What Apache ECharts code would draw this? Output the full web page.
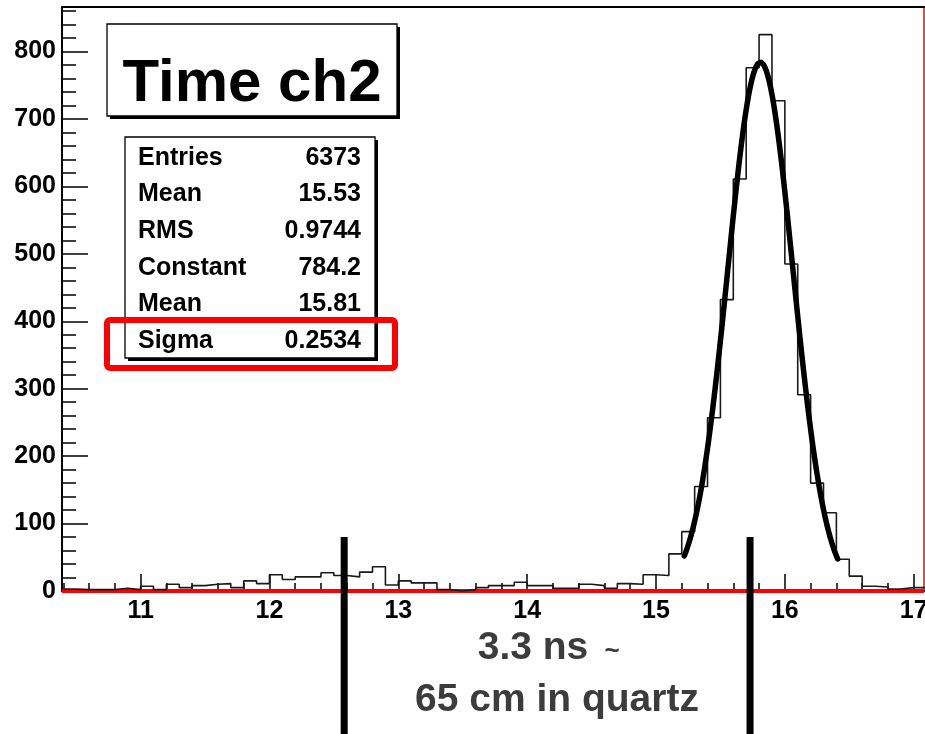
<!DOCTYPE html>
<html>
<head>
<meta charset="utf-8">
<script src="https://cdn.jsdelivr.net/npm/echarts@6/dist/echarts.min.js"></script>
<style>
  html, body { margin: 0; padding: 0; background: #ffffff; }
  #chart { width: 925px; height: 734px; }
</style>
</head>
<body>
<div id="chart"></div>
<script>
// Time histogram of channel 2 (ns), 0.1 ns bins starting at 10.4 ns
const binStart = 10.4;
const binWidth = 0.1;
const binCounts = [
  3, 2, 2, 2, 4, 2, 7, 2, 10, 5,        // 10.4 - 11.3
  8, 10, 11, 5, 15, 11, 24, 17, 21, 21, // 11.4 - 12.3
  27, 23, 21, 28, 36, 9, 15, 12, 12, 2, // 12.4 - 13.3
  0, 2, 5, 8, 8, 13, 8, 8, 4, 4,        // 13.4 - 14.3
  10, 8, 4, 11, 10, 24, 23, 55, 88, 155,// 14.4 - 15.3
  257, 432, 611, 776, 825, 727, 485, 291, 160, 116, // 15.4 - 16.3
  47, 22, 7, 6, 3, 5, 5                 // 16.4 - 17.0
];

// Axis ticks and labels
const xMajorTicks = [11, 12, 13, 14, 15, 16, 17];
const xMinorTicks = [10.4, 10.6, 10.8, 11.2, 11.4, 11.6, 11.8, 12.2, 12.4, 12.6, 12.8,
                     13.2, 13.4, 13.6, 13.8, 14.2, 14.4, 14.6, 14.8, 15.2, 15.4, 15.6, 15.8,
                     16.2, 16.4, 16.6, 16.8];
const yMajorTicks = [0, 100, 200, 300, 400, 500, 600, 700, 800];
const yMinorTicks = [20, 40, 60, 80, 120, 140, 160, 180, 220, 240, 260, 280, 320, 340, 360, 380,
                     420, 440, 460, 480, 520, 540, 560, 580, 620, 640, 660, 680, 720, 740, 760, 780,
                     820, 840, 860];

// Statistics box
const statsRows = [
  ['Entries', '6373'],
  ['Mean', '15.53'],
  ['RMS', '0.9744'],
  ['Constant', '784.2'],
  ['Mean', '15.81'],
  ['Sigma', '0.2534']
];

// Gaussian fit result and the range it was fitted over
const fitConstant = 784.2;
const fitMean = 15.81;
const fitSigma = 0.2534;
const fitRange = [15.22, 16.41];

// Time markers below the axis and their caption
const markerTimes = [12.58, 15.73];
const markerTopCount = 80;
const captionLines = ['3.3 ns', '~', '65 cm in quartz'];

const FONT = '"Liberation Sans", Arial, Helvetica, sans-serif';

// Histogram outline: one point at each bin's lower edge, closed at the upper edge
const histPoints = binCounts.map((c, i) => [+(binStart + i * binWidth).toFixed(2), c]);
histPoints.push([+(binStart + binCounts.length * binWidth).toFixed(2), binCounts[binCounts.length - 1]]);

// Fit curve sampled over the fit range
const fitPoints = [];
for (let x = fitRange[0]; x <= fitRange[1] + 1e-9; x += 0.005) {
  const z = (x - fitMean) / fitSigma;
  fitPoints.push([x, fitConstant * Math.exp(-0.5 * z * z)]);
}

const xMin = 10.39, xMax = 17.08, yMax = 866;

const chart = echarts.init(document.getElementById('chart'), null, { renderer: 'canvas' });

const option = {
  animation: false,
  backgroundColor: '#ffffff',
  grid: { left: 62, right: 1, top: 7, bottom: 143, containLabel: false, outerBoundsMode: 'none' },
  xAxis: [
    {
      type: 'value', min: xMin, max: xMax, position: 'bottom',
      axisLine: { show: true, onZero: false, lineStyle: { color: '#000', width: 2 } },
      axisTick: { show: true, inside: true, length: 17, customValues: xMajorTicks,
                  lineStyle: { color: '#000', width: 1.5 } },
      axisLabel: { show: true, customValues: xMajorTicks, margin: 8, hideOverlap: false,
                   fontFamily: FONT, fontWeight: 'bold', fontSize: 25, color: '#000' },
      splitLine: { show: false }
    },
    {
      type: 'value', min: xMin, max: xMax, position: 'bottom',
      axisLine: { show: false, onZero: false },
      axisTick: { show: true, inside: true, length: 8, customValues: xMinorTicks,
                  lineStyle: { color: '#000', width: 1.5 } },
      axisLabel: { show: false },
      splitLine: { show: false }
    },
    {
      type: 'value', min: xMin, max: xMax, position: 'top',
      axisLine: { show: true, onZero: false, lineStyle: { color: '#000', width: 2 } },
      axisTick: { show: false }, axisLabel: { show: false }, splitLine: { show: false }
    }
  ],
  yAxis: [
    {
      type: 'value', min: 0, max: yMax, position: 'left',
      axisLine: { show: true, onZero: false, lineStyle: { color: '#000', width: 2 } },
      axisTick: { show: true, inside: true, length: 26, customValues: yMajorTicks,
                  lineStyle: { color: '#000', width: 1.5 } },
      axisLabel: { show: true, customValues: yMajorTicks, margin: 6,
                   fontFamily: FONT, fontWeight: 'bold', fontSize: 25, color: '#000' },
      splitLine: { show: false }
    },
    {
      type: 'value', min: 0, max: yMax, position: 'left',
      axisLine: { show: false, onZero: false },
      axisTick: { show: true, inside: true, length: 14, customValues: yMinorTicks,
                  lineStyle: { color: '#000', width: 1.5 } },
      axisLabel: { show: false }, splitLine: { show: false }
    },
    {
      type: 'value', min: 0, max: yMax, position: 'right',
      axisLine: { show: true, onZero: false, lineStyle: { color: '#ff0000', width: 1.5 } },
      axisTick: { show: false }, axisLabel: { show: false }, splitLine: { show: false }
    }
  ],
  series: [
    {
      name: 'baseline', type: 'line', xAxisIndex: 0, yAxisIndex: 0,
      data: [[xMin, 0], [xMax, 0]], symbol: 'none', silent: true, z: 1,
      lineStyle: { color: '#ff0000', width: 4 }
    },
    {
      name: 'Time ch2', type: 'line', xAxisIndex: 0, yAxisIndex: 0,
      data: histPoints, step: 'end', symbol: 'none', z: 3,
      lineStyle: { color: '#1a1a1a', width: 1.6 }
    },
    {
      name: 'gaus fit', type: 'line', xAxisIndex: 0, yAxisIndex: 0,
      data: fitPoints, symbol: 'none', z: 4,
      lineStyle: { color: '#000', width: 5.5, cap: 'round', join: 'round' }
    }
  ]
};

chart.setOption(option);

// Decorations: title pave, statistics pave, highlight and time markers
const graphics = [];

function pave(x, y, w, h) {
  graphics.push({ type: 'rect', shape: { x: x + 3, y: y + 3, width: w, height: h },
                  style: { fill: '#000' }, z: 10 });
  graphics.push({ type: 'rect', shape: { x: x, y: y, width: w, height: h },
                  style: { fill: '#fff', stroke: '#000', lineWidth: 1.3 }, z: 11 });
}

pave(107, 24, 290, 92);
graphics.push({
  type: 'text', x: 252, y: 84, z: 12,
  style: { text: 'Time ch2', font: 'bold 60px ' + FONT, fill: '#000',
           align: 'center', verticalAlign: 'middle' }
});

pave(125, 137, 250, 221);
statsRows.forEach((row, i) => {
  const y = 158 + i * 36.6;
  graphics.push({ type: 'text', x: 138, y: y, z: 12,
    style: { text: row[0], font: 'bold 25px ' + FONT, fill: '#000', align: 'left', verticalAlign: 'middle' } });
  graphics.push({ type: 'text', x: 361, y: y, z: 12,
    style: { text: row[1], font: 'bold 25px ' + FONT, fill: '#000', align: 'right', verticalAlign: 'middle' } });
});

graphics.push({
  type: 'rect', z: 13,
  shape: { x: 107, y: 320, width: 288, height: 48, r: 3 },
  style: { fill: 'none', stroke: '#ff0000', lineWidth: 6 }
});

markerTimes.forEach(t => {
  const top = chart.convertToPixel({ xAxisIndex: 0, yAxisIndex: 0 }, [t, markerTopCount]);
  graphics.push({
    type: 'line', z: 14,
    shape: { x1: top[0], y1: top[1], x2: top[0], y2: 734 },
    style: { stroke: '#000', lineWidth: 7 }
  });
});

graphics.push({
  type: 'text', x: 533, y: 648, z: 14,
  style: { text: captionLines[0], font: 'bold 39px ' + FONT, fill: '#3c3c3c',
           align: 'center', verticalAlign: 'middle' }
});
graphics.push({
  type: 'text', x: 612, y: 652, z: 14,
  style: { text: captionLines[1], font: 'bold 26px ' + FONT, fill: '#3c3c3c',
           align: 'center', verticalAlign: 'middle' }
});
graphics.push({
  type: 'text', x: 557, y: 700, z: 14,
  style: { text: captionLines[2], font: 'bold 39px ' + FONT, fill: '#3c3c3c',
           align: 'center', verticalAlign: 'middle' }
});

chart.setOption({ graphic: graphics });
</script>
</body>
</html>
